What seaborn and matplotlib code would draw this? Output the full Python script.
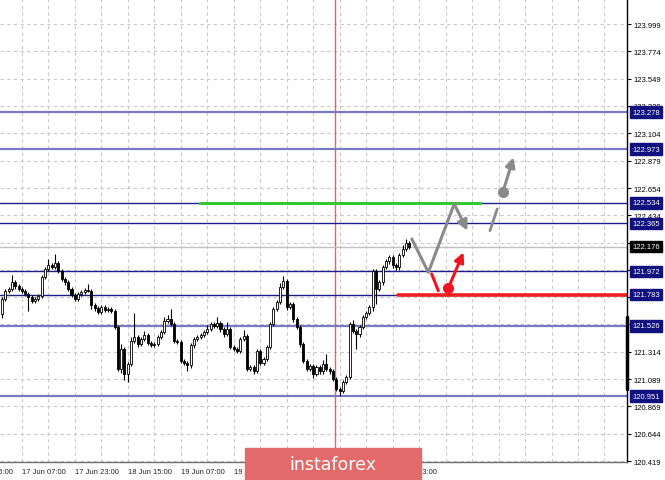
import numpy as np
import pandas as pd
import matplotlib
matplotlib.use("Agg")
import matplotlib.pyplot as plt
import matplotlib.transforms as mtransforms
from matplotlib.patches import Rectangle
import seaborn as sns

# H1 candles, oldest first (open of each bar = previous close)
first_open = 121.623
closes = [
    121.746, 121.812, 121.828, 121.885, 121.852, 121.828, 121.812, 121.787, 121.762, 121.730,
    121.746, 121.771, 121.926, 121.992, 122.024, 122.008, 122.041, 121.975, 121.910, 121.885,
    121.828, 121.779, 121.746, 121.787, 121.803, 121.820, 121.815, 121.697, 121.672, 121.640,
    121.680, 121.656, 121.664, 121.648, 121.517, 121.173, 121.337, 121.132, 121.214, 121.402,
    121.435, 121.377, 121.418, 121.451, 121.386, 121.369, 121.377, 121.435, 121.476, 121.566,
    121.582, 121.541, 121.402, 121.396, 121.238, 121.222, 121.205, 121.369, 121.418, 121.435,
    121.451, 121.476, 121.500, 121.541, 121.525, 121.549, 121.500, 121.459, 121.500, 121.353,
    121.337, 121.320, 121.418, 121.443, 121.173, 121.189, 121.156, 121.320, 121.222, 121.255,
    121.353, 121.541, 121.664, 121.721, 121.844, 121.893, 121.680, 121.705, 121.582, 121.517,
    121.377, 121.238, 121.173, 121.197, 121.132, 121.189, 121.156, 121.214, 121.173, 121.156,
    121.091, 121.009, 120.993, 121.066, 121.107, 121.541, 121.484, 121.459, 121.517, 121.599,
    121.631, 121.680, 121.975, 121.828, 121.885, 122.008, 122.057, 122.090, 122.024, 122.008,
    122.106, 122.156, 122.205, 122.176,
]
hi_wick = [
    .02, .02, .02, .06, .02, .015, .015, .02, .015, .02,
    .015, .02, .02, .02, .05, .02, .075, .02, .015, .015,
    .015, .015, .02, .015, .02, .015, .05, .015, .02, .015,
    .02, .015, .02, .015, .015, .015, .04, .02, .02, .03,
    .2, .02, .02, .03, .02, .015, .02, .02, .02, .03,
    .03, .08, .02, .015, .015, .02, .015, .02, .02, .015,
    .02, .02, .03, .02, .02, .05, .02, .02, .06, .015,
    .015, .02, .02, .05, .015, .02, .015, .02, .02, .02,
    .02, .02, .02, .02, .03, .04, .02, .015, .02, .015,
    .015, .015, .02, .015, .02, .015, .02, .03, .08, .02,
    .015, .02, .015, .02, .02, .02, .03, .02, .02, .02,
    .02, .015, .015, .02, .02, .02, .02, .02, .02, .02,
    .02, .03, .03, .02,
]
lo_wick = [
    .03, .015, .02, .015, .02, .015, .015, .02, .11, .02,
    .02, .015, .015, .015, .02, .015, .015, .015, .015, .02,
    .015, .02, .02, .015, .015, .015, .015, .03, .02, .02,
    .02, .015, .02, .015, .015, .02, .03, .05, .065, .02,
    .02, .02, .015, .015, .02, .015, .015, .015, .02, .015,
    .015, .015, .02, .015, .015, .02, .05, .02, .02, .015,
    .015, .015, .02, .015, .015, .015, .02, .02, .015, .02,
    .02, .015, .015, .015, .02, .015, .02, .015, .02, .015,
    .015, .015, .015, .02, .015, .015, .02, .015, .02, .015,
    .02, .015, .02, .015, .03, .015, .02, .02, .02, .02,
    .02, .02, .04, .02, .02, .02, .02, .12, .02, .02,
    .02, .015, .03, .12, .02, .02, .015, .02, .02, .02,
    .02, .015, .02, .02,
]

y_ticks = [123.999, 123.774, 123.549, 123.329, 123.104, 122.879, 122.654, 122.434,
           122.209, 121.984, 121.759, 121.539, 121.314, 121.089, 120.869, 120.644, 120.419]
x_tick_pos = [-10, 6, 22, 38, 54, 70, 86, 102, 118]
x_tick_labels = ["16 Jun 15:00", "17 Jun 07:00", "17 Jun 23:00", "18 Jun 15:00",
                 "19 Jun 07:00", "19 Jun 23:00", "20 Jun 15:00", "21 Jun 07:00", "21 Jun 23:00"]

levels_light = [123.278, 122.973, 121.526, 120.951]
levels_dark = [122.534, 122.365, 121.972, 121.783]
current_price = 122.176
support_level = 121.783
resist_level = 122.534
marker_bar = 100.6

# forecast scenario (bar index, price)
main_x = [123.8, 128.8, 136.6]
main_y = [122.238, 121.965, 122.525]
main_tip = (140.6, 122.306)
red_dash_x = [129.8, 131.8]
red_dash_y = [121.951, 121.814]
red_dot = (134.8, 121.834)
red_tip = (139.4, 122.129)
alt_dash_x = [147.4, 149.6]
alt_dash_y = [122.306, 122.484]
alt_dot = (151.3, 122.620)
alt_tip = (154.5, 122.907)

sns.set_theme(style="white")
plt.rcParams["font.family"] = ["Liberation Sans", "DejaVu Sans"]

fig = plt.figure(figsize=(6.65, 4.81), dpi=100)
ax = fig.add_axes([0, 18 / 481, 627 / 665, 463 / 481])
ax.set_xlim(-0.6, 188.8)
ax.set_ylim(120.411, 124.204)

# grid
for gx in np.arange(-2, 190, 8):
    ax.axvline(gx, color="#c8c8c8", lw=0.8, ls=(0, (3, 3)), zorder=0)
for gy in y_ticks:
    ax.axhline(gy, color="#c8c8c8", lw=0.8, ls=(0, (3, 3)), zorder=0)

ax.axvline(marker_bar, color="#f06060", lw=1, zorder=1)

for lv in levels_light:
    ax.axhline(lv, color="#7a7ac4", lw=1.6, zorder=1)
for lv in levels_dark:
    ax.axhline(lv, color="#1e1e8c", lw=1, zorder=1)
ax.axhline(current_price, color="#c0c0c0", lw=1, zorder=1)

ax.plot([59.8, 144.5], [resist_level, resist_level], color="#33c833", lw=2.2, zorder=2)
ax.plot([119.6, 188.8], [support_level, support_level], color="#ee2020", lw=2.6, zorder=2)

# candles
df = pd.DataFrame({"close": closes})
df["open"] = [first_open] + closes[:-1]
df["top"] = df[["open", "close"]].max(axis=1)
df["bot"] = df[["open", "close"]].min(axis=1)
df["high"] = df["top"] + np.array(hi_wick)
df["low"] = df["bot"] - np.array(lo_wick)
up = df["close"] >= df["open"]
idx = np.arange(len(df))
ax.vlines(idx, df["low"], df["high"], color="black", lw=0.8, zorder=3)
ax.bar(idx, np.maximum(df["top"] - df["bot"], 0.004), bottom=df["bot"], width=0.62,
       color=np.where(up, "white", "black"), edgecolor="black", lw=0.6, zorder=4)

# forecast
gray = "#8a8a8a"
red = "#f0141e"
sns.lineplot(x=main_x, y=main_y, sort=False, color=gray, lw=2.2, ax=ax, zorder=5)
ax.annotate("", xy=main_tip, xytext=(main_x[-1], main_y[-1]), zorder=5,
            arrowprops=dict(arrowstyle="-|>", color=gray, lw=2.2, mutation_scale=15,
                            shrinkA=0, shrinkB=0))
ax.plot(red_dash_x, red_dash_y, color=red, lw=2.2, zorder=5)
ax.plot(*red_dot, "o", color=red, ms=7, zorder=6)
ax.annotate("", xy=red_tip, xytext=red_dot, zorder=5,
            arrowprops=dict(arrowstyle="-|>", color=red, lw=2.2, mutation_scale=14,
                            shrinkA=0, shrinkB=0))
ax.plot(alt_dash_x, alt_dash_y, color=gray, lw=2, zorder=5)
ax.plot(*alt_dot, "o", color=gray, ms=7, zorder=6)
ax.annotate("", xy=alt_tip, xytext=alt_dot, zorder=5,
            arrowprops=dict(arrowstyle="-|>", color=gray, lw=2.2, mutation_scale=14,
                            shrinkA=0, shrinkB=0))

# axes styling
for s in ["top", "left"]:
    ax.spines[s].set_visible(False)
ax.spines["right"].set_color("black")
ax.spines["right"].set_linewidth(1)
ax.spines["bottom"].set_color("#707070")
ax.spines["bottom"].set_linewidth(1)
ax.yaxis.tick_right()
ax.set_yticks(y_ticks, [f"{v:.3f}" for v in y_ticks])
ax.tick_params(axis="y", length=3, width=0.8, pad=1.5, labelsize=5.5, colors="black")
ax.set_xticks(x_tick_pos[1:], [])
ax.tick_params(axis="x", length=3, width=0.8, colors="black")
bt = mtransforms.blended_transform_factory(ax.transData, ax.transAxes)
for xp, lab in zip(x_tick_pos, x_tick_labels):
    ax.text(xp, -0.0195, lab, transform=bt, ha="left", va="center", fontsize=5.5,
            clip_on=False)

# right-side price tags
yt = mtransforms.blended_transform_factory(ax.transAxes, ax.transData)
for lv in levels_light + levels_dark:
    ax.text(1.008, lv, f"{lv:.3f}", transform=yt, ha="left", va="center", fontsize=5.5,
            color="white", zorder=10, clip_on=False,
            bbox=dict(boxstyle="square,pad=0.3", fc="#10107e", ec="#10107e"))
ax.text(1.008, current_price, f"{current_price:.3f}", transform=yt, ha="left", va="center",
        fontsize=5.5, color="white", zorder=10, clip_on=False,
        bbox=dict(boxstyle="square,pad=0.3", fc="black", ec="black"))
ax.plot([1, 1], [121.599, 121.009], transform=yt, color="black", lw=2.5, clip_on=False,
        zorder=9)

# watermark
fig.patches.append(Rectangle((245 / 665, 0), 176 / 665, 32 / 481, transform=fig.transFigure,
                             color="#e26a6a", zorder=20))
fig.text(333 / 665, 16 / 481, "instaforex", color="white", fontsize=12.5, ha="center",
         va="center", zorder=21, family="DejaVu Sans")

fig.savefig("out.png", dpi=100)
